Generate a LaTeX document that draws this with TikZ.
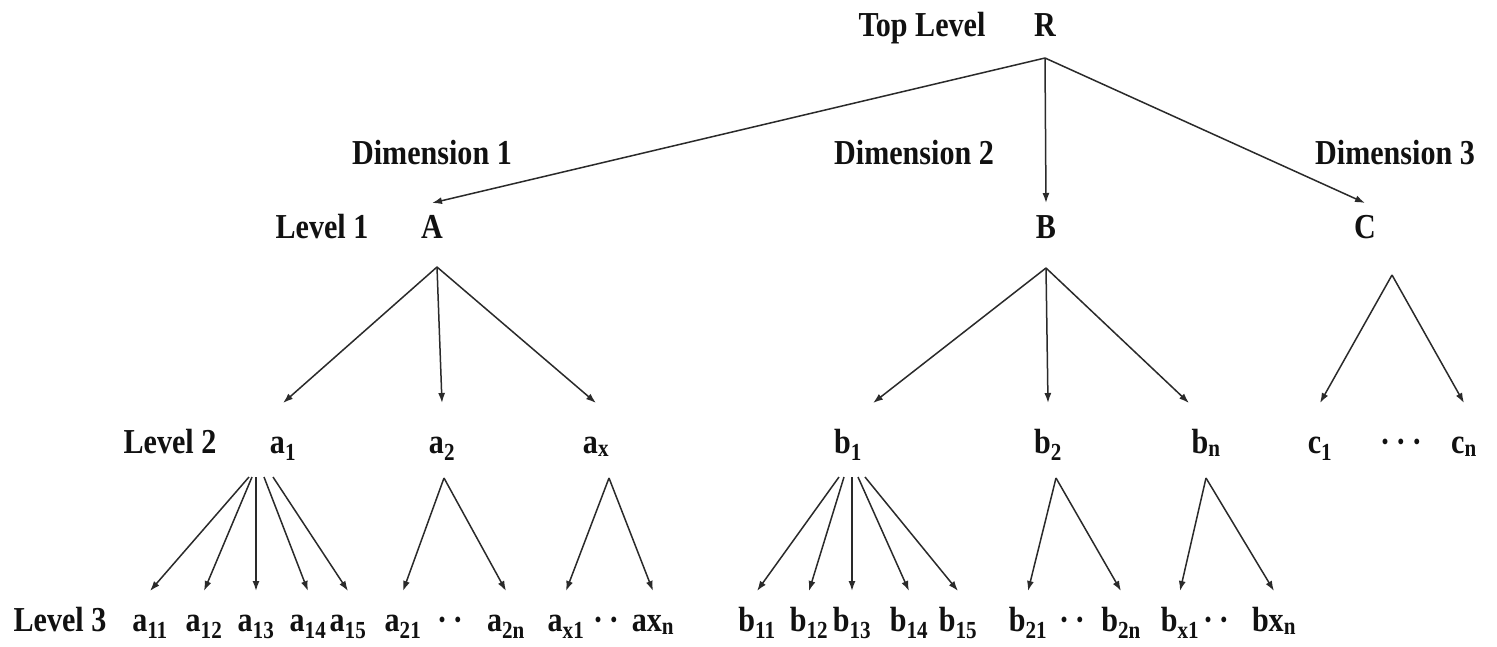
\documentclass[tikz,border=0pt]{standalone}
\usepackage{fontspec}
\setmainfont{Liberation Serif}[FakeStretch=0.86]
\usepackage{tikz}
\usetikzlibrary{arrows.meta,positioning,calc}
\definecolor{Ink}{HTML}{111111}
\definecolor{Wire}{HTML}{2A2A2A}
\tikzset{
  lbl/.style={anchor=base, inner sep=2pt, outer sep=0pt, text height=24pt, text depth=8pt, font=\bfseries\fontsize{35}{40}\selectfont, text=Ink},
  lvlone/.style={lbl, outer sep=9pt},
  lvltwo/.style={lbl, outer sep=24pt},
  lvlthree/.style={lbl, outer sep=14pt},
  arrow/.style={-{Latex[length=10pt,width=7pt]}, line width=1.5pt, draw=Wire}
}
\begin{document}
\begin{tikzpicture}[x=1pt,y=-1pt]
  \useasboundingbox[fill=white] (0,0) rectangle (1497,646);
  % root and dimensions
  \node[lbl] (toplab) at (922,36) {Top Level};
  \node[lbl] (R) at (1045,36) {R};
  \node[lbl] (dim1) at (432,164) {Dimension 1};
  \node[lbl] (dim2) at (914,164) {Dimension 2};
  \node[lbl] (dim3) at (1395,164) {Dimension 3};

  % level 1
  \node[lbl] (lev1) at (322,238) {Level 1};
  \node[lvlone] (A) at (432,238) {A};
  \node[lvlone] (B) at (1046,238) {B};
  \node[lvlone] (C) at (1365,238) {C};

  % level 2
  \node[lbl] (lev2) at (170,453) {Level 2};
  \node[lvltwo] (a1) at (283,453) {a\textsubscript{1}};
  \node[lvltwo] (a2) at (442,453) {a\textsubscript{2}};
  \node[lvltwo] (ax) at (596,453) {a\textsubscript{x}};
  \node[lvltwo] (b1) at (848,453) {b\textsubscript{1}};
  \node[lvltwo] (b2) at (1048,453) {b\textsubscript{2}};
  \node[lvltwo] (bn) at (1206,453) {b\textsubscript{n}};
  \node[lvltwo] (c1) at (1320,453) {c\textsubscript{1}};
  \node[lbl] (cdots) at (1401,453) {·\,·\,·};
  \node[lvltwo] (cn) at (1464,453) {c\textsubscript{n}};

  % level 3
  \node[lbl] (lev3) at (60,631) {Level 3};
  \node[lvlthree] (a11) at (150,631) {a\textsubscript{11}};
  \node[lvlthree] (a12) at (204,631) {a\textsubscript{12}};
  \node[lvlthree] (a13) at (256,631) {a\textsubscript{13}};
  \node[lvlthree] (a14) at (308,631) {a\textsubscript{14}};
  \node[lvlthree] (a15) at (348,631) {a\textsubscript{15}};
  \node[lvlthree] (a21) at (403,631) {a\textsubscript{21}};
  \node[lbl] (adotsa) at (450,631) {·\,·};
  \node[lvlthree] (a2n) at (506,631) {a\textsubscript{2n}};
  \node[lvlthree] (ax1) at (566,631) {a\textsubscript{x1}};
  \node[lbl] (adotsb) at (606,631) {·\,·};
  \node[lvlthree] (axn) at (653,631) {ax\textsubscript{n}};
  \node[lvlthree] (b11) at (757,631) {b\textsubscript{11}};
  \node[lvlthree] (b12) at (809,631) {b\textsubscript{12}};
  \node[lvlthree] (b13) at (852,631) {b\textsubscript{13}};
  \node[lvlthree] (b14) at (909,631) {b\textsubscript{14}};
  \node[lvlthree] (b15) at (958,631) {b\textsubscript{15}};
  \node[lvlthree] (b21) at (1028,631) {b\textsubscript{21}};
  \node[lbl] (bdotsa) at (1072,631) {·\,·};
  \node[lvlthree] (b2n) at (1121,631) {b\textsubscript{2n}};
  \node[lvlthree] (bx1) at (1180,631) {b\textsubscript{x1}};
  \node[lbl] (bdotsb) at (1216,631) {·\,·};
  \node[lvlthree] (bxn) at (1274,631) {bx\textsubscript{n}};

  % fork points
  \coordinate (Rfork) at (1045,58);
  \coordinate (Afork) at (437,267);
  \coordinate (Bfork) at (1046,268);
  \coordinate (Cfork) at (1392,275);
  \coordinate (a1fork) at (261,477);
  \coordinate (a2fork) at (444,478);
  \coordinate (axfork) at (609,478);
  \coordinate (b1fork) at (852,477);
  \coordinate (b2fork) at (1056,478);
  \coordinate (bnfork) at (1206,478);

  \draw[arrow] (Rfork) -- (A.north);
  \draw[arrow] (Rfork) -- (B.north);
  \draw[arrow] (Rfork) -- (C.north);

  \draw[arrow] (Afork) -- (a1.north);
  \draw[arrow] (Afork) -- (a2.north);
  \draw[arrow] (Afork) -- (ax.north);
  \draw[arrow] (Bfork) -- ([xshift=25pt]b1.north);
  \draw[arrow] (Bfork) -- (b2.north);
  \draw[arrow] (Bfork) -- ([xshift=-17pt]bn.north);
  \draw[arrow] (Cfork) -- (c1.north);
  \draw[arrow] (Cfork) -- (cn.north);

  \draw[arrow] ([xshift=-12pt]a1fork) -- (a11.north);
  \draw[arrow] ([xshift=-9pt]a1fork) -- (a12.north);
  \draw[arrow] ([xshift=-5pt]a1fork) -- (a13.north);
  \draw[arrow] ([xshift=3pt]a1fork) -- (a14.north);
  \draw[arrow] ([xshift=12pt]a1fork) -- (a15.north);
  \draw[arrow] (a2fork) -- (a21.north);
  \draw[arrow] (a2fork) -- (a2n.north);
  \draw[arrow] (axfork) -- (ax1.north);
  \draw[arrow] (axfork) -- (axn.north);

  \draw[arrow] ([xshift=-13pt]b1fork) -- (b11.north);
  \draw[arrow] ([xshift=-8pt]b1fork) -- (b12.north);
  \draw[arrow] (b1fork) -- (b13.north);
  \draw[arrow] ([xshift=6pt]b1fork) -- (b14.north);
  \draw[arrow] ([xshift=13pt]b1fork) -- (b15.north);
  \draw[arrow] (b2fork) -- (b21.north);
  \draw[arrow] (b2fork) -- (b2n.north);
  \draw[arrow] (bnfork) -- (bx1.north);
  \draw[arrow] (bnfork) -- (bxn.north);
\end{tikzpicture}
\end{document}
